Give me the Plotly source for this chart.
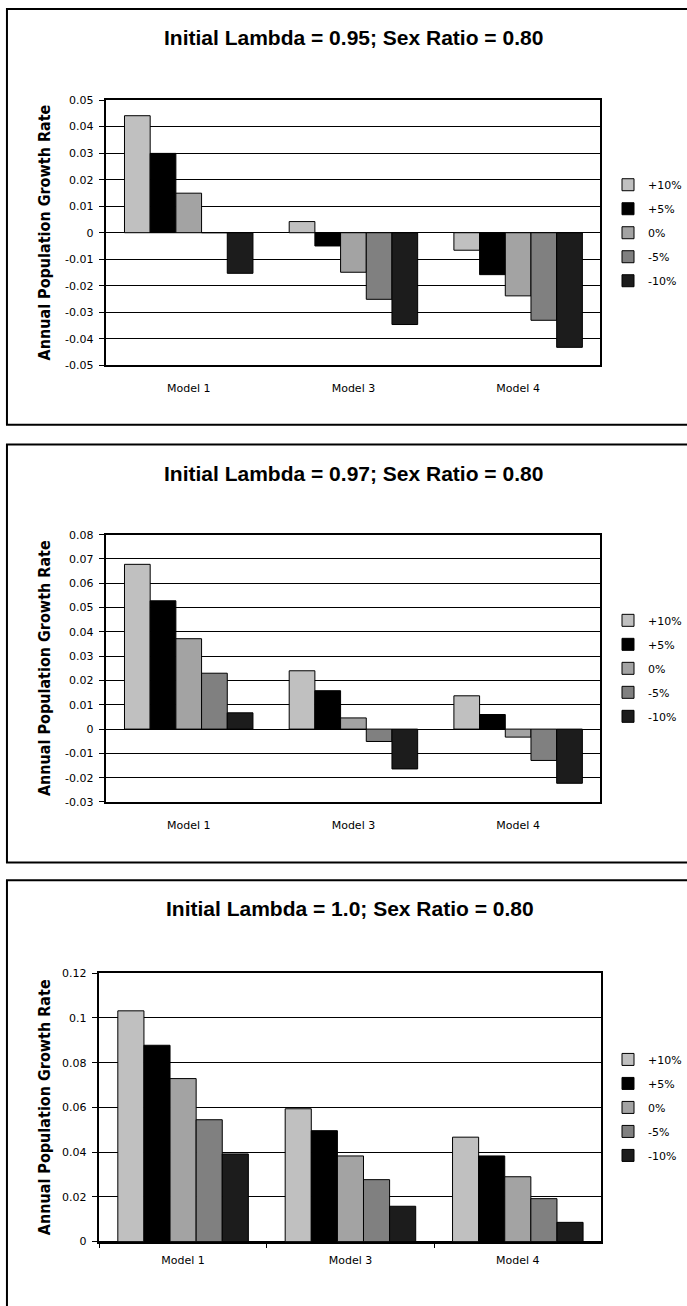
import plotly.graph_objects as go

# ---------------- data ----------------
MODELS = ["Model 1", "Model 3", "Model 4"]
SERIES = ["+10%", "+5%", "0%", "-5%", "-10%"]

TITLE_1 = "Initial Lambda = 0.95; Sex Ratio = 0.80"
TITLE_2 = "Initial Lambda = 0.97; Sex Ratio = 0.80"
TITLE_3 = "Initial Lambda = 1.0; Sex Ratio = 0.80"
Y_TITLE = "Annual Population Growth Rate"

# panel 1 (lambda 0.95)
P1_PLUS10 = [0.0441, 0.0042, -0.0066]
P1_PLUS5 = [0.0299, -0.0050, -0.0158]
P1_ZERO = [0.0149, -0.0149, -0.0238]
P1_MINUS5 = [0.0, -0.0251, -0.0330]
P1_MINUS10 = [-0.0153, -0.0346, -0.0432]

# panel 2 (lambda 0.97)
P2_PLUS10 = [0.0678, 0.0240, 0.0137]
P2_PLUS5 = [0.0528, 0.0158, 0.0060]
P2_ZERO = [0.0372, 0.0046, -0.0033]
P2_MINUS5 = [0.0230, -0.0051, -0.0129]
P2_MINUS10 = [0.0067, -0.0164, -0.0223]

# panel 3 (lambda 1.0)
P3_PLUS10 = [0.1032, 0.0594, 0.0467]
P3_PLUS5 = [0.0878, 0.0496, 0.0383]
P3_ZERO = [0.0729, 0.0383, 0.0290]
P3_MINUS5 = [0.0545, 0.0277, 0.0192]
P3_MINUS10 = [0.0392, 0.0158, 0.0086]

Y1_TICKVALS = [0.05, 0.04, 0.03, 0.02, 0.01, 0, -0.01, -0.02, -0.03, -0.04, -0.05]
Y1_TICKTEXT = ["0.05", "0.04", "0.03", "0.02", "0.01", "0", "-0.01", "-0.02", "-0.03", "-0.04", "-0.05"]
Y2_TICKVALS = [0.08, 0.07, 0.06, 0.05, 0.04, 0.03, 0.02, 0.01, 0, -0.01, -0.02, -0.03]
Y2_TICKTEXT = ["0.08", "0.07", "0.06", "0.05", "0.04", "0.03", "0.02", "0.01", "0", "-0.01", "-0.02", "-0.03"]
Y3_TICKVALS = [0.12, 0.1, 0.08, 0.06, 0.04, 0.02, 0]
Y3_TICKTEXT = ["0.12", "0.1", "0.08", "0.06", "0.04", "0.02", "0"]

# ---------------- styling ----------------
COLORS = ["#C0C0C0", "#000000", "#A3A3A3", "#808080", "#1C1C1C"]
W, H = 687, 1306


def px(x):
    return x / W


def py(y):
    return 1 - y / H


PANELS = [
    dict(series=[P1_PLUS10, P1_PLUS5, P1_ZERO, P1_MINUS5, P1_MINUS10], title=TITLE_1,
         x0=107, x1=604, y0=95, y1=363, frame=(3, 423), rng=[-0.05, 0.05],
         tv=Y1_TICKVALS, tt=Y1_TICKTEXT, xticks=False),
    dict(series=[P2_PLUS10, P2_PLUS5, P2_ZERO, P2_MINUS5, P2_MINUS10], title=TITLE_2,
         x0=107, x1=604, y0=534, y1=804, frame=(443, 865), rng=[-0.03, 0.08],
         tv=Y2_TICKVALS, tt=Y2_TICKTEXT, xticks=False),
    dict(series=[P3_PLUS10, P3_PLUS5, P3_ZERO, P3_MINUS5, P3_MINUS10], title=TITLE_3,
         x0=100, x1=605, y0=977, y1=1248, frame=(883, 1330), rng=[0, 0.12],
         tv=Y3_TICKVALS, tt=Y3_TICKTEXT, xticks=True),
]

SMALL_FONT = dict(family="DejaVu Sans, Arial, sans-serif", size=11, color="black")

fig = go.Figure()
layout = dict(
    width=W, height=H, margin=dict(l=0, r=0, t=0, b=0),
    paper_bgcolor="white", plot_bgcolor="white",
    barmode="group", bargap=0.22, bargroupgap=0,
    showlegend=True, shapes=[], annotations=[],
)

for i, p in enumerate(PANELS):
    n = "" if i == 0 else str(i + 1)
    xa, ya, lg = "x" + n, "y" + n, "legend" + n
    for name, vals, col in zip(SERIES, p["series"], COLORS):
        fig.add_trace(go.Bar(
            x=MODELS, y=vals, name=name, marker=dict(color=col, line=dict(color="black", width=1)),
            xaxis=xa, yaxis=ya, legend=lg, legendgroup=name + n, hoverinfo="skip",
        ))
    layout["xaxis" + n] = dict(
        domain=[px(p["x0"]), px(p["x1"])], anchor=ya, type="category",
        showline=True, linecolor="black", linewidth=1.5, mirror=True,
        showgrid=False, zeroline=False,
        ticks="outside" if p["xticks"] else "", tickson="boundaries", ticklen=5,
        tickcolor="black", tickwidth=1,
        tickfont=SMALL_FONT, ticklabelstandoff=7 if p["xticks"] else 12,
    )
    layout["yaxis" + n] = dict(
        domain=[py(p["y1"]), py(p["y0"])], anchor=xa, range=p["rng"],
        tickmode="array", tickvals=p["tv"], ticktext=p["tt"],
        showline=True, linecolor="black", linewidth=1.5, mirror=True,
        showgrid=True, gridcolor="black", gridwidth=1,
        zeroline=True, zerolinecolor="black", zerolinewidth=1.2,
        ticks="outside", ticklen=6, tickcolor="black", tickwidth=1,
        tickfont=SMALL_FONT, ticklabelstandoff=3,
    )
    layout[lg] = dict(
        x=px(612), y=py((p["y0"] + p["y1"]) / 2), xanchor="left", yanchor="middle",
        bgcolor="rgba(0,0,0,0)", borderwidth=0, font=SMALL_FONT,
        traceorder="grouped", tracegroupgap=5, itemwidth=30,
    )
    # category-boundary tick marks sitting on the zero line (panels with negative values)
    if not p["xticks"]:
        lo, hi = p["rng"]
        zero_px = p["y0"] + (p["y1"] - p["y0"]) * hi / (hi - lo)
        layout["xaxis" + str(10 + i)] = dict(
            domain=[px(p["x0"]), px(p["x1"])], overlaying=xa, anchor="free",
            position=py(zero_px), side="bottom", type="linear", range=[-0.5, 2.5],
            tickmode="array", tickvals=[0.5, 1.5, 2.5], ticks="outside", ticklen=4,
            tickcolor="black", tickwidth=1, showticklabels=False,
            showline=False, showgrid=False, zeroline=False, fixedrange=True,
        )
    # frame around the whole panel
    layout["shapes"].append(dict(
        type="rect", xref="paper", yref="paper",
        x0=px(7), x1=px(W + 6), y0=py(p["frame"][1]), y1=py(p["frame"][0]),
        line=dict(color="black", width=2), fillcolor="rgba(0,0,0,0)", layer="below",
    ))
    # panel title
    layout["annotations"].append(dict(
        text="<b>" + p["title"] + "</b>", xref="paper", yref="paper",
        x=px((p["x0"] + p["x1"]) / 2), y=py(p["frame"][0] + 29),
        xanchor="center", yanchor="middle", showarrow=False,
        font=dict(family="Liberation Sans, Arial, sans-serif", size=21, color="black"),
    ))
    # y axis title
    layout["annotations"].append(dict(
        text="<b>" + Y_TITLE + "</b>", xref="paper", yref="paper",
        x=px(45), y=py((p["y0"] + p["y1"]) / 2), textangle=-90,
        xanchor="center", yanchor="middle", showarrow=False,
        font=dict(family="DejaVu Sans Condensed, Liberation Sans Narrow, Arial, sans-serif",
                  size=16, color="black"),
    ))

fig.update_layout(**layout)
fig.write_html(
    "out.html",
    config={"displayModeBar": False},
    post_script="document.body.style.margin='0';document.body.style.padding='0';"
                "document.body.style.overflow='hidden';",
)
